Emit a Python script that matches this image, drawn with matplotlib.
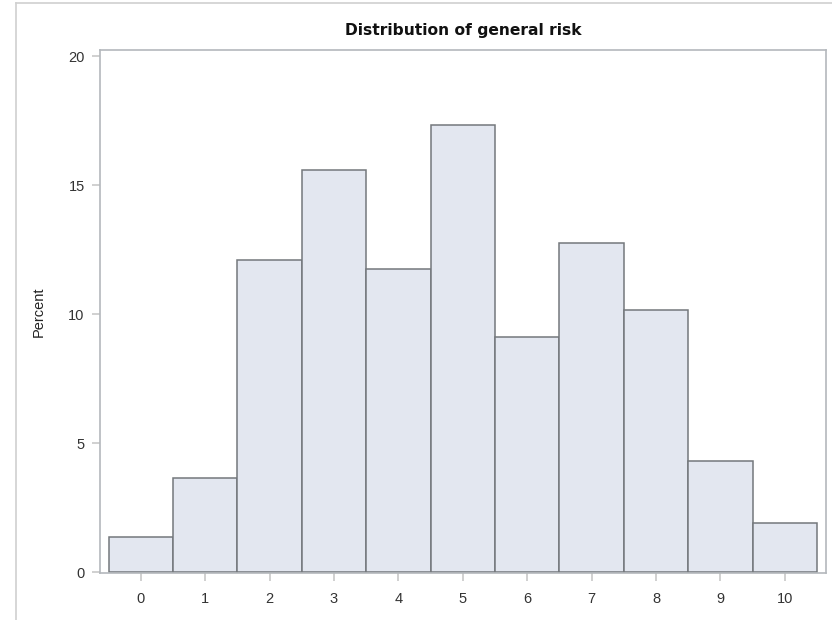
import numpy as np
import matplotlib
matplotlib.use("Agg")
import matplotlib.pyplot as plt
from matplotlib.lines import Line2D

# general risk scores and percent of respondents
risk = [0, 1, 2, 3, 4, 5, 6, 7, 8, 9, 10]
percent = [1.36, 3.67, 12.09, 15.59, 11.76, 17.34, 9.11, 12.76, 10.17, 4.31, 1.92]
y_ticks = [0, 5, 10, 15, 20]

plt.rcParams['font.family'] = ['Liberation Sans', 'DejaVu Sans']

W, H = 832, 620
fig = plt.figure(figsize=(W / 100, H / 100), dpi=100)
fig.patch.set_facecolor("white")

# outer frame (left and top edge only visible)
fig.add_artist(Line2D([16 / W, 16 / W], [0, 1 - 3 / H], color="#d0d0d0", lw=1.2))
fig.add_artist(Line2D([16 / W, 1], [1 - 3 / H, 1 - 3 / H], color="#d0d0d0", lw=1.2))

left, right, top, bottom = 100, 826, 50, 573
ax = fig.add_axes([left / W, 1 - bottom / H, (right - left) / W, (bottom - top) / H])

ax.bar(risk, percent, width=1.0, color="#e3e7f0", edgecolor="#74787c", linewidth=1.1, zorder=2)

ax.set_xlim(-0.632, 10.64)
ax.set_ylim(-0.03, 20.24)
ax.set_xticks(risk)
ax.set_yticks(y_ticks)

for s in ax.spines.values():
    s.set_color("#b4b8bc")
    s.set_linewidth(1.2)

ax.tick_params(axis="both", length=6, width=1.2, color="#c8c8c8", labelsize=10.5,
               labelcolor="#333333")
ax.tick_params(axis="x", pad=8)
ax.tick_params(axis="y", pad=5)

ax.set_ylabel("Percent", fontsize=10.5, color="#222222", labelpad=16)
ax.set_title("Distribution of general risk", fontsize=11.2, fontweight="bold",
             family="DejaVu Sans", color="#111111", pad=11)

fig.savefig("out.png", dpi=100)
